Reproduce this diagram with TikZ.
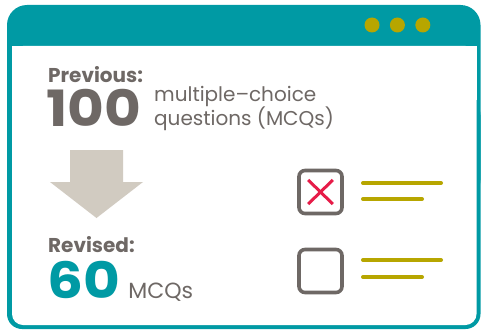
\documentclass[tikz,border=0pt]{standalone}
\usepackage{fontspec}
\setmainfont{Poppins}
\usetikzlibrary{positioning, calc}
\definecolor{frameteal}{RGB}{0,154,164}
\definecolor{inkgray}{RGB}{110,104,101}
\definecolor{arrowbeige}{RGB}{209,203,193}
\definecolor{olive}{RGB}{183,166,0}
\definecolor{crossred}{RGB}{230,28,72}
\newcommand{\widenum}[1]{\scalebox{1.13}[1]{#1}}

\begin{document}
\begin{tikzpicture}[x=1pt, y=-1pt]
\tikzset{label/.style={inner sep=0, anchor=base west, text=inkgray, font=\bfseries\fontsize{20}{24}\selectfont},
		bignum/.style={inner sep=0, anchor=base west, font=\bfseries\fontsize{50}{56}\selectfont},
		desc/.style={inner sep=0, anchor=base west, text=inkgray, font=\fontsize{20}{24}\selectfont},
		checkbox/.style={draw=inkgray, line width=3.6pt, rounded corners=6pt, minimum size=43pt, inner sep=0},
		textline/.style={draw=olive, line width=4pt, line cap=round},
		dot/.style={circle, fill=olive, minimum size=15pt, inner sep=0}}
\useasboundingbox (0,0) rectangle (481,329);
% window frame
\fill[frameteal, rounded corners=20pt] (7,5) rectangle (480.5,200);
\fill[frameteal, rounded corners=15pt] (7,100) rectangle (480.5,329);
\fill[white, rounded corners=11pt] (12,46) rectangle (476.5,325);
\fill[white] (12,46) rectangle (476.5,100);
\node[dot] (d1) at (372,25) {};
\node[dot, right=10pt of d1] (d2) {};
\node[dot, right=10pt of d2] (d3) {};
% before
\node[label] (prev) at (48,82.7) {Previous:};
\node[bignum, text=inkgray] (hundred) at (46,126.7) {\widenum{100}};
\node[desc] (mc1) at (154,101.7) {multiple–choice};
\node[desc] (mc2) at (154,125) {questions (MCQs)};
% arrow
\fill[arrowbeige] (70,150) -- (123,150) -- (123,182) -- (143,182) -- (96.5,218) -- (50,182) -- (70,182) -- cycle;
% after
\node[label] (rev) at (48,252.7) {Revised:};
\node[bignum, text=frameteal] (sixty) at (47,298.3) {\widenum{60}};
\node[desc, font=\fontsize{22}{26}\selectfont, right=8pt of sixty.base east, anchor=base west] (mcq) {MCQs};
% answer boxes
\node[checkbox] (box1) at (320.5,192) {};
\node[checkbox] (box2) at (320.5,271) {};
\draw[crossred, line width=3pt] ($(box1.center)+(-12.3,-12)$) -- ($(box1.center)+(12.3,12)$);
\draw[crossred, line width=3pt] ($(box1.center)+(12.3,-12)$) -- ($(box1.center)+(-12.3,12)$);
\draw[textline] (363,183) -- (441,183);
\draw[textline] (363,199) -- (422,199);
\draw[textline] (363,260) -- (441,260);
\draw[textline] (363,277) -- (422,277);
\end{tikzpicture}
\end{document}
